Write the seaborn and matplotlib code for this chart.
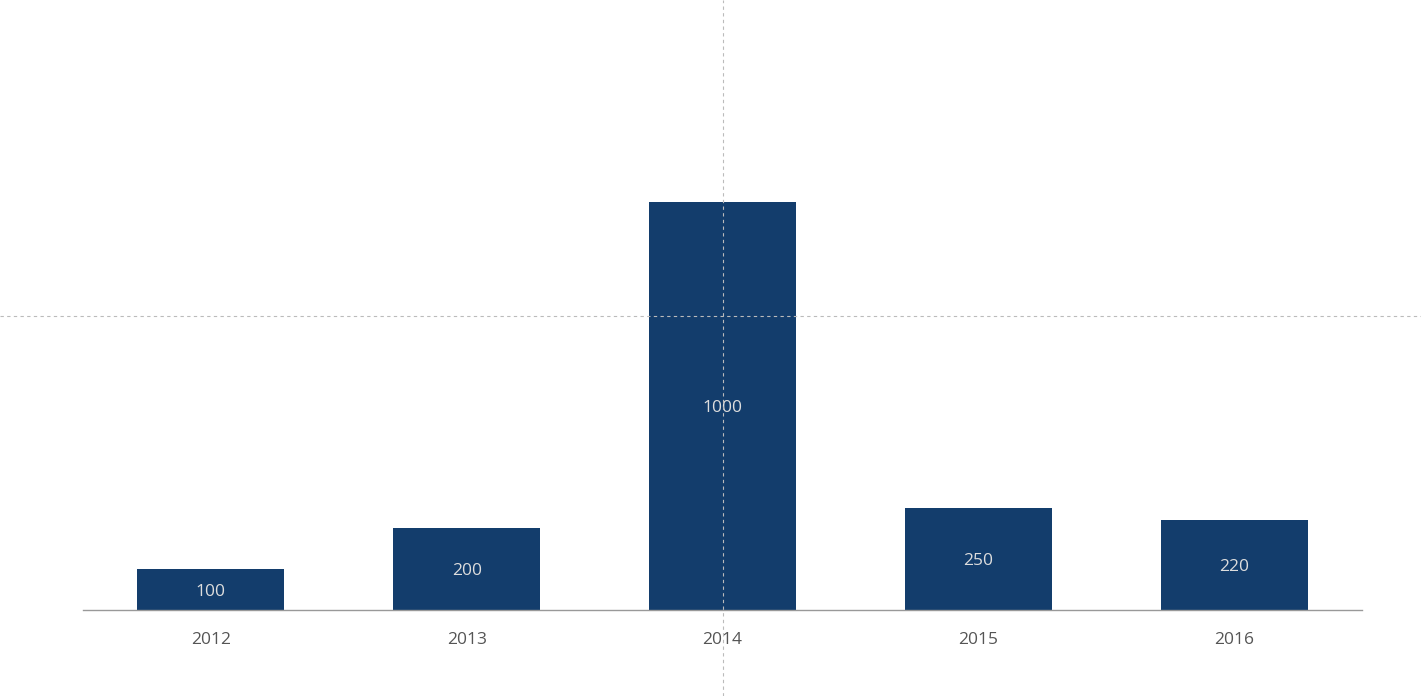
import matplotlib
matplotlib.use("Agg")
import matplotlib.pyplot as plt
import seaborn as sns
import pandas as pd
from matplotlib.lines import Line2D
from matplotlib.transforms import offset_copy

years = ["2012", "2013", "2014", "2015", "2016"]
values = [100, 200, 1000, 250, 220]

sns.set_theme(style="white")
plt.rcParams['font.family'] = ['Open Sans', 'DejaVu Sans']

W, H = 1421, 696
fig = plt.figure(figsize=(W / 100, H / 100), dpi=100)
ax = fig.add_axes([83 / W, (H - 610) / H, (1362 - 83) / W, 610 / H])

df = pd.DataFrame({"year": years, "value": values})
sns.barplot(data=df, x="year", y="value", color="#133d6c", saturation=1,
            width=0.575, ax=ax, edgecolor="none")

ax.set_ylim(0, 610 / 0.408)
ax.set_xlim(-0.5, len(years) - 0.5)
for s in ["top", "right", "left"]:
    ax.spines[s].set_visible(False)
ax.spines["bottom"].set_color("#999999")
ax.spines["bottom"].set_linewidth(1)
ax.set_yticks([])
ax.set_xlabel("")
ax.set_ylabel("")
ax.tick_params(axis="x", length=0, pad=15.5, labelsize=12.5, labelcolor="#555555")

tr = offset_copy(ax.transData, fig=fig, x=0, y=-2, units="dots")
for i, v in enumerate(values):
    ax.text(i, v / 2, str(v), ha="center", va="center", fontsize=12.5,
            color="#dddddd", transform=tr)

fig.add_artist(Line2D([723 / W, 723 / W], [0, 1], transform=fig.transFigure,
                      color="#bbbbbb", lw=0.8, ls=(0, (3, 3))))
fig.add_artist(Line2D([0, 1], [1 - 316 / H, 1 - 316 / H], transform=fig.transFigure,
                      color="#bbbbbb", lw=0.8, ls=(0, (3, 3))))

fig.savefig("out.png", dpi=100, facecolor="white")
